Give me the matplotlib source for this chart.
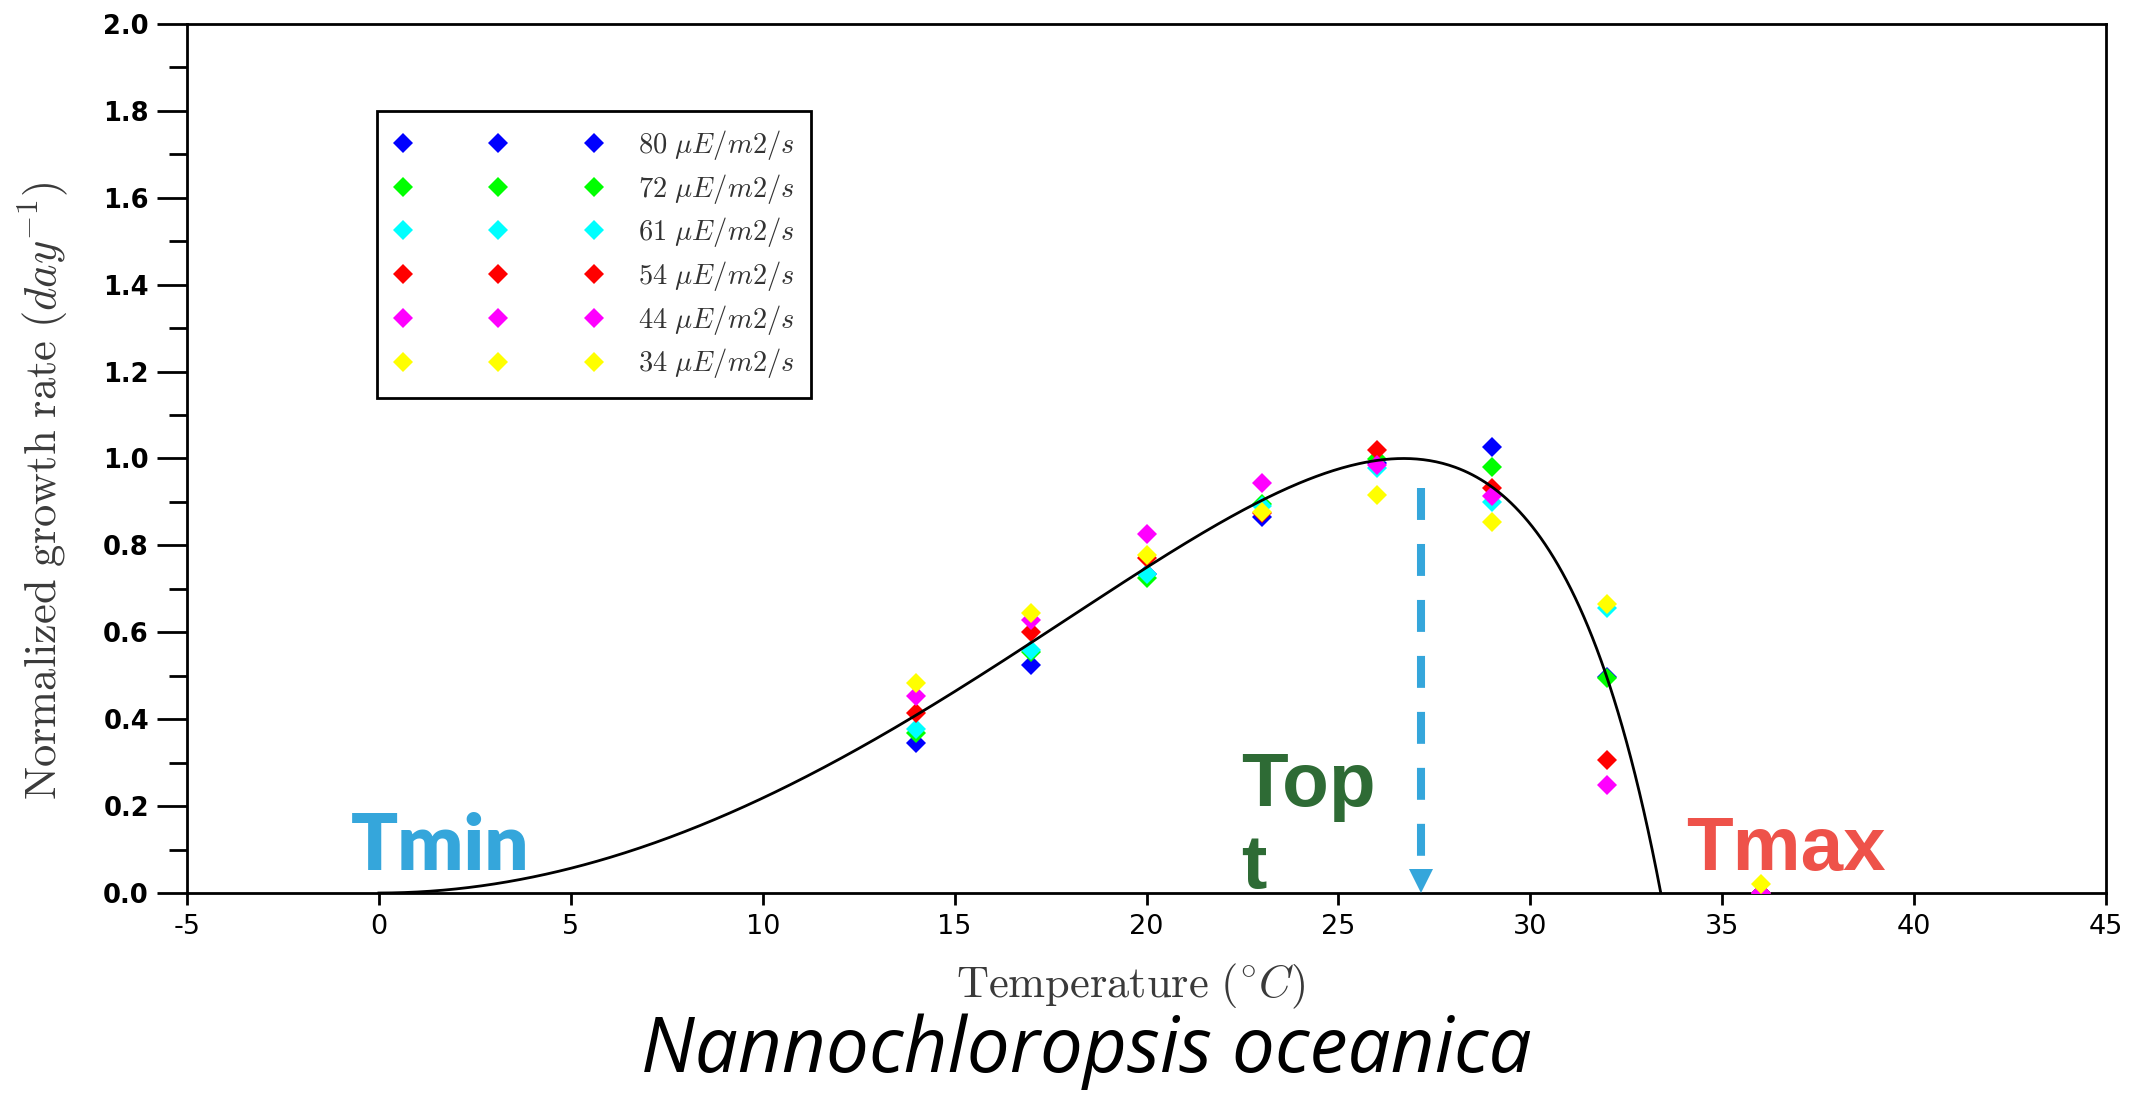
import numpy as np
import matplotlib
matplotlib.use("Agg")
import matplotlib.pyplot as plt
from matplotlib.lines import Line2D
from matplotlib.ticker import MultipleLocator, FormatStrFormatter

plt.rcParams['mathtext.fontset'] = 'cm'
plt.rcParams['axes.unicode_minus'] = False
plt.rcParams['lines.scale_dashes'] = False

# Measured growth rates (normalised) per light intensity
temperatures = [14, 17, 20, 23, 26, 29, 32, 36]
light_levels = ['80', '72', '61', '54', '44', '34']
light_colors = ['#0000ff', '#00ff00', '#00ffff', '#ff0000', '#ff00ff', '#ffff00']
growth_80 = [0.346, 0.525, 0.735, 0.865, 0.990, 1.026, 0.498, 0.0]
growth_72 = [0.368, 0.555, 0.724, 0.895, 1.000, 0.981, 0.494, 0.0]
growth_61 = [0.377, 0.559, 0.734, 0.891, 0.977, 0.900, 0.655, 0.0]
growth_54 = [0.415, 0.601, 0.771, 0.875, 1.020, 0.931, 0.306, 0.0]
growth_44 = [0.453, 0.628, 0.826, 0.944, 0.985, 0.914, 0.249, 0.0]
growth_34 = [0.483, 0.644, 0.778, 0.878, 0.916, 0.855, 0.665, 0.021]
growth_series = [growth_80, growth_72, growth_61, growth_54, growth_44, growth_34]

# Cardinal temperatures of the fitted CTMI model
t_min = 0.0
t_opt = 26.7
t_max = 33.4
mu_opt = 1.0
t_opt_arrow = 27.15


def ctmi(t):
    num = (t - t_max) * (t - t_min) ** 2
    den = (t_opt - t_min) * ((t_opt - t_min) * (t - t_opt)
                             - (t_opt - t_max) * (t_opt + t_min - 2 * t))
    return mu_opt * num / den


W, H = 2148, 1096
fig = plt.figure(figsize=(W / 100, H / 100), dpi=100)
ax = fig.add_axes([187 / W, 1 - 893 / H, (2106 - 187) / W, (893 - 24) / H])

ms = 10.5
for vals, col in zip(growth_series, light_colors):
    ax.plot(temperatures, vals, linestyle='none', marker='D', ms=ms,
            color=col, mec=col, mew=0, zorder=3)

t_fit = np.linspace(t_min, t_max, 600)
ax.plot(t_fit, ctmi(t_fit), color='black', lw=2.0, zorder=4)

# Topt arrow
arrow_col = '#35a6db'
ax.plot([t_opt_arrow, t_opt_arrow], [0.932, 0.054], color=arrow_col, lw=5.8,
        dashes=(23, 17.3), solid_capstyle='butt', zorder=5)
ax.plot([t_opt_arrow], [0.0265], marker='v', ms=16.6, color=arrow_col,
        mew=0, linestyle='none', zorder=5)

ax.text(-0.73, 0.053, 'Tmin', color='#35a6db', fontsize=56, family='Lato',
        fontweight='heavy', ha='left', va='baseline', zorder=6)
ax.text(22.46, 0.0115, 'Top\nt', color='#2e6b35', fontsize=55,
        family='Liberation Sans', fontweight='bold', ha='left', va='baseline',
        linespacing=1.2, zorder=6)
ax.text(34.06, 0.053, 'Tmax', color='#ee524a', fontsize=55,
        family='Liberation Sans', fontweight='bold', ha='left', va='baseline',
        zorder=6)

ax.set_xlim(-5, 45)
ax.set_ylim(0, 2.0)
ax.xaxis.set_major_locator(MultipleLocator(5))
ax.yaxis.set_major_locator(MultipleLocator(0.2))
ax.yaxis.set_minor_locator(MultipleLocator(0.1))
ax.yaxis.set_major_formatter(FormatStrFormatter('%.1f'))

for sp in ax.spines.values():
    sp.set_linewidth(2.0)
ax.tick_params(axis='x', which='major', direction='out', length=8.4, width=2.0,
               pad=7, labelsize=19.5)
ax.tick_params(axis='y', which='major', direction='out', length=21.6, width=2.0,
               pad=5.8, labelsize=18.5)
ax.tick_params(axis='y', which='minor', direction='out', length=13, width=2.0)
for lab in ax.get_xticklabels():
    lab.set_family('DejaVu Sans')
for lab in ax.get_yticklabels():
    lab.set_family('DejaVu Sans')
    lab.set_fontweight('bold')

label_col = '#3a3a3a'
ax.set_xlabel(r'$\mathrm{Temperature}\ (^{\circ}C)$', fontsize=32,
              color=label_col, va='baseline')
ax.xaxis.set_label_coords((1131 - 187) / 1919, (893 - 997) / 869)
ax.set_ylabel(r'$\mathrm{Normalized\ growth\ rate}\ (day^{-1})$', fontsize=32,
              color=label_col, va='center')
ax.yaxis.set_label_coords((43 - 187) / 1919, (893 - 491) / 869)

handles = [Line2D([], [], linestyle='none', marker='D', ms=ms, color=c, mec=c,
                  mew=0) for c in light_colors]
labels = [r'$\mathit{%s}\ \mu E/m\mathit{2}/s$' % lv for lv in light_levels]
leg = ax.legend(handles, labels, loc='upper left',
                bbox_to_anchor=(377 / W, 1 - 111 / H),
                bbox_transform=fig.transFigure, borderaxespad=0,
                numpoints=3, handlelength=7.33, handletextpad=1.22,
                borderpad=0.6, labelspacing=0.34, fontsize=20.5,
                frameon=True, fancybox=False, framealpha=1, edgecolor='black',
                labelcolor='#333333')
leg.get_frame().set_linewidth(2.0)

fig.text(1086 / W, 1 - 1072 / H, 'Nannochloropsis oceanica', family='Open Sans',
         style='italic', fontsize=55, ha='center', va='baseline', color='black')

fig.savefig('out.png', dpi=100)
